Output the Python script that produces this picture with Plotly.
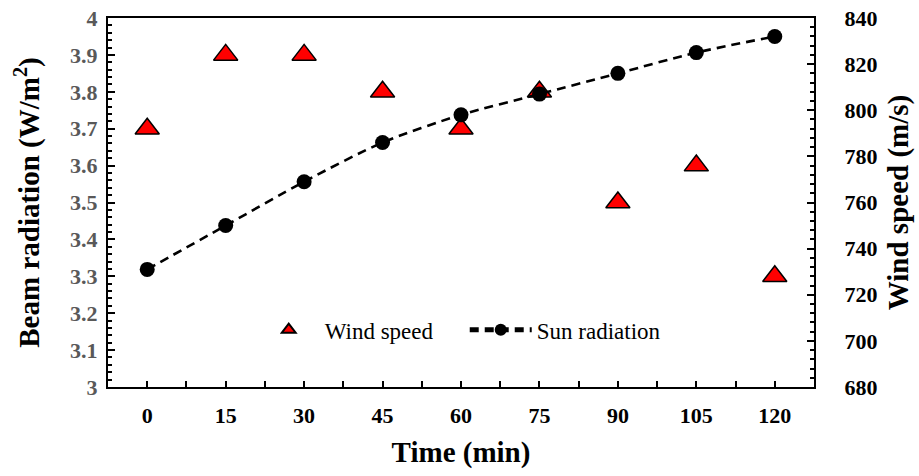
import plotly.graph_objects as go

time_min = [0, 15, 30, 45, 60, 75, 90, 105, 120]
wind_speed = [3.7, 3.9, 3.9, 3.8, 3.7, 3.8, 3.5, 3.6, 3.3]
sun_radiation = [731, 750, 769, 786, 798, 807, 816, 825, 832]

x_ticks = [0, 15, 30, 45, 60, 75, 90, 105, 120]
left_ticks = [3, 3.1, 3.2, 3.3, 3.4, 3.5, 3.6, 3.7, 3.8, 3.9, 4]
left_labels = ["3", "3.1", "3.2", "3.3", "3.4", "3.5", "3.6", "3.7", "3.8", "3.9", "4"]
right_ticks = [680, 700, 720, 740, 760, 780, 800, 820, 840]

FONT = "Liberation Serif"

fig = go.Figure()
fig.add_trace(go.Scatter(
    x=time_min, y=wind_speed, name="Wind speed", mode="markers",
    marker=dict(symbol="triangle-up", size=21, color="#ff0000",
                line=dict(color="black", width=1.5)),
    yaxis="y",
))
fig.add_trace(go.Scatter(
    x=time_min, y=sun_radiation, name="Sun radiation", mode="lines+markers",
    line=dict(color="black", width=2.6, dash="9px,6px", shape="spline", smoothing=0.8),
    marker=dict(symbol="circle", size=15, color="black"),
    yaxis="y2",
))

fig.update_layout(
    width=919, height=476,
    margin=dict(l=108, r=105, t=18, b=89, autoexpand=False),
    paper_bgcolor="white", plot_bgcolor="white",
    font=dict(family=FONT, color="black"),
    showlegend=True,
    legend=dict(orientation="h", x=0.205, y=0.155, xanchor="left", yanchor="middle",
                font=dict(family=FONT, size=23, color="black"),
                bgcolor="rgba(0,0,0,0)", itemsizing="constant", itemwidth=62,
                entrywidth=135, entrywidthmode="pixels"),
    xaxis=dict(
        range=[-7.5, 127.5], tickmode="array", tickvals=x_ticks, automargin=False,
        ticks="inside", ticklen=6, tickwidth=1.5, tickcolor="black",
        minor=dict(dtick=7.5, tick0=0, ticks="inside", ticklen=6, tickwidth=1.5, tickcolor="black"),
        showline=True, linecolor="black", linewidth=2, mirror=True,
        showgrid=False, zeroline=False,
        tickfont=dict(family=FONT, size=22, color="black", weight="bold"),
        ticklabelstandoff=8,
        title=dict(text="<b>Time (min)</b>", font=dict(family=FONT, size=29, color="black"), standoff=14),
    ),
    yaxis=dict(
        range=[3, 4], tickmode="array", tickvals=left_ticks, ticktext=left_labels, automargin=False,
        ticks="inside", ticklen=7, tickwidth=1.5, tickcolor="black",
        minor=dict(dtick=0.02, tick0=3, ticks="inside", ticklen=4, tickwidth=1.5, tickcolor="black"),
        showline=True, linecolor="black", linewidth=2,
        showgrid=False, zeroline=False,
        tickfont=dict(family=FONT, size=22, color="#595959", weight="bold"),
        ticklabelstandoff=4,
        title=dict(text="<b>Beam radiation (W/m<sup>2</sup>)</b>", font=dict(family=FONT, size=29, color="black"), standoff=22),
    ),
    yaxis2=dict(
        range=[680, 840], tickmode="array", tickvals=right_ticks, automargin=False,
        overlaying="y", side="right",
        ticks="inside", ticklen=7, tickwidth=1.5, tickcolor="black",
        minor=dict(dtick=4, tick0=680, ticks="inside", ticklen=4, tickwidth=1.5, tickcolor="black"),
        showline=True, linecolor="black", linewidth=2,
        showgrid=False, zeroline=False,
        tickfont=dict(family=FONT, size=22, color="black", weight="bold"),
        ticklabelstandoff=24,
        title=dict(text="<b>Wind speed (m/s)</b>", font=dict(family=FONT, size=29, color="black"), standoff=11),
    ),
)

fig.write_html("out.html")
